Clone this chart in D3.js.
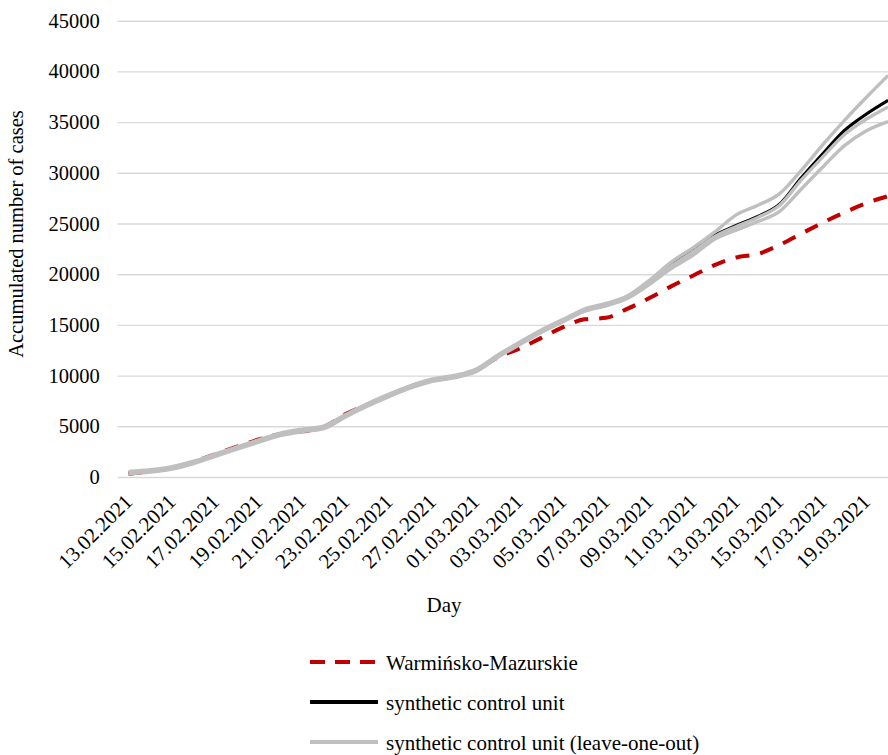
<!DOCTYPE html>
<html>
<head>
<meta charset="utf-8">
<script src="https://cdn.jsdelivr.net/npm/d3@7"></script>
<style>
  body { margin: 0; background: #fff; }
  svg { display: block; }
  svg text { font-family: "Liberation Serif", "Tinos", "DejaVu Serif", serif; }
</style>
</head>
<body>
<svg id="chart" width="888" height="755"></svg>
<script>
// DATA -----------------------------------------------------------------------

// one entry per day, 13.02.2021 .. 20.03.2021
var days = ["13.02.2021", "14.02.2021", "15.02.2021", "16.02.2021", "17.02.2021",
  "18.02.2021", "19.02.2021", "20.02.2021", "21.02.2021", "22.02.2021",
  "23.02.2021", "24.02.2021", "25.02.2021", "26.02.2021", "27.02.2021",
  "28.02.2021", "01.03.2021", "02.03.2021", "03.03.2021", "04.03.2021",
  "05.03.2021", "06.03.2021", "07.03.2021", "08.03.2021", "09.03.2021",
  "10.03.2021", "11.03.2021", "12.03.2021", "13.03.2021", "14.03.2021",
  "15.03.2021", "16.03.2021", "17.03.2021", "18.03.2021", "19.03.2021",
  "20.03.2021"];

// Warmińsko-Mazurskie (observed)
var observed = [300, 580, 880, 1500, 2250, 3000, 3700, 4250, 4500, 4950,
  6200, 7150, 8050, 8950, 9500, 9900, 10500, 11800, 12650, 13700,
  14750, 15550, 15700, 16600, 17650, 18800, 19850, 20900, 21650, 22000,
  22900, 24000, 25100, 26100, 27000, 27700];

// synthetic control unit
var synthetic = [420, 600, 900, 1450, 2150, 2860, 3550, 4200, 4600, 4900,
  6050, 7100, 8050, 8900, 9550, 9900, 10500, 11900, 13150, 14350,
  15400, 16450, 17000, 17750, 19200, 20900, 22250, 23800, 24800, 25700,
  26900, 29500, 31900, 34200, 35800, 37150];

// synthetic control unit (leave-one-out), three runs
var looHigh = [540, 720, 1020, 1570, 2270, 2980, 3670, 4320, 4720, 5020,
  6170, 7220, 8170, 9020, 9670, 10020, 10620, 12020, 13270, 14470,
  15520, 16570, 17120, 17870, 19400, 21200, 22600, 24150, 25850, 26800,
  27950, 30250, 32800, 35200, 37450, 39600];
var looMid = [420, 600, 900, 1450, 2150, 2860, 3550, 4200, 4600, 4900,
  6050, 7100, 8050, 8900, 9550, 9900, 10500, 11900, 13150, 14350,
  15400, 16450, 17000, 17750, 19150, 20800, 22200, 23700, 24700, 25600,
  26800, 29300, 31600, 33800, 35300, 36500];
var looLow = [300, 480, 780, 1330, 2030, 2740, 3430, 4080, 4480, 4780,
  5930, 6980, 7930, 8780, 9430, 9780, 10380, 11780, 13030, 14230,
  15280, 16330, 16880, 17630, 19000, 20550, 21850, 23450, 24350, 25200,
  26200, 28400, 30600, 32700, 34150, 35050];

var yTicks = [0, 5000, 10000, 15000, 20000, 25000, 30000, 35000, 40000, 45000];

var legendItems = [
  {name: "Warmińsko-Mazurskie", color: "#c00000", dash: "15,10"},
  {name: "synthetic control unit", color: "#000000", dash: null},
  {name: "synthetic control unit (leave-one-out)", color: "#bfbfbf", dash: null}
];


// SCALES ---------------------------------------------------------------------

var svg = d3.select("#chart");
var plotLeft = 117.7, plotRight = 899, plotTop = 20.7, plotBottom = 477;

var x = d3.scaleBand().domain(days).range([plotLeft, plotRight]);
var y = d3.scaleLinear().domain([0, 45000]).range([plotBottom, plotTop]);
function cx(d) { return x(d) + x.bandwidth() / 2; }

svg.append("rect").attr("width", 888).attr("height", 755).attr("fill", "#fff");


// GRID AND AXES --------------------------------------------------------------

var yAxis = d3.axisLeft(y).tickValues(yTicks)
    .tickSize(-(plotRight - plotLeft)).tickFormat(d3.format("d"));
var gy = svg.append("g").attr("transform", "translate(" + plotLeft + ",0)").call(yAxis);
gy.attr("font-family", null);
gy.select(".domain").remove();
gy.selectAll(".tick line").attr("stroke", "#d9d9d9").attr("stroke-width", 1.4);
gy.selectAll(".tick text")
  .attr("x", -18).attr("font-size", 20.5).attr("fill", "#000");

var xAxis = d3.axisBottom(x)
    .tickValues(days.filter(function(d, i) { return i % 2 == 0; }))
    .tickSize(0);
var gx = svg.append("g").attr("transform", "translate(0," + plotBottom + ")").call(xAxis);
gx.attr("font-family", null);
gx.select(".domain").remove();
gx.selectAll(".tick text")
  .attr("font-size", 21).attr("fill", "#000")
  .attr("text-anchor", "end")
  .attr("x", 0).attr("y", 0).attr("dy", 0)
  .attr("transform", "translate(5,26) rotate(-45)");

// axis titles
svg.append("text")
  .attr("transform", "translate(23,234) rotate(-90)")
  .attr("text-anchor", "middle").attr("font-size", 20.5)
  .text("Accumulated number of cases");
svg.append("text")
  .attr("x", 444).attr("y", 612)
  .attr("text-anchor", "middle").attr("font-size", 21)
  .text("Day");


// LINES ----------------------------------------------------------------------

var line = d3.line()
    .x(function(d, i) { return cx(days[i]); })
    .y(function(d) { return y(d); })
    .curve(d3.curveMonotoneX);

svg.append("path").datum(observed)
  .attr("d", line).attr("fill", "none")
  .attr("stroke", "#c00000").attr("stroke-width", 4)
  .attr("stroke-dasharray", "14,11");

svg.append("path").datum(synthetic)
  .attr("d", line).attr("fill", "none")
  .attr("stroke", "#000").attr("stroke-width", 3.2);

[looMid, looLow, looHigh].forEach(function(s) {
  svg.append("path").datum(s)
    .attr("d", line).attr("fill", "none")
    .attr("stroke", "#bfbfbf").attr("stroke-width", 3.4);
});


// LEGEND ---------------------------------------------------------------------

var legend = svg.selectAll(".legend").data(legendItems).enter()
  .append("g").attr("class", "legend")
  .attr("transform", function(d, i) { return "translate(310," + (662 + i * 40) + ")"; });
legend.append("line")
  .attr("x1", 0).attr("x2", 68).attr("y1", 0).attr("y2", 0)
  .attr("stroke", function(d) { return d.color; })
  .attr("stroke-width", 4)
  .attr("stroke-dasharray", function(d) { return d.dash; });
legend.append("text")
  .attr("x", 76).attr("y", 7.5).attr("font-size", 21)
  .text(function(d) { return d.name; });
</script>
</body>
</html>
